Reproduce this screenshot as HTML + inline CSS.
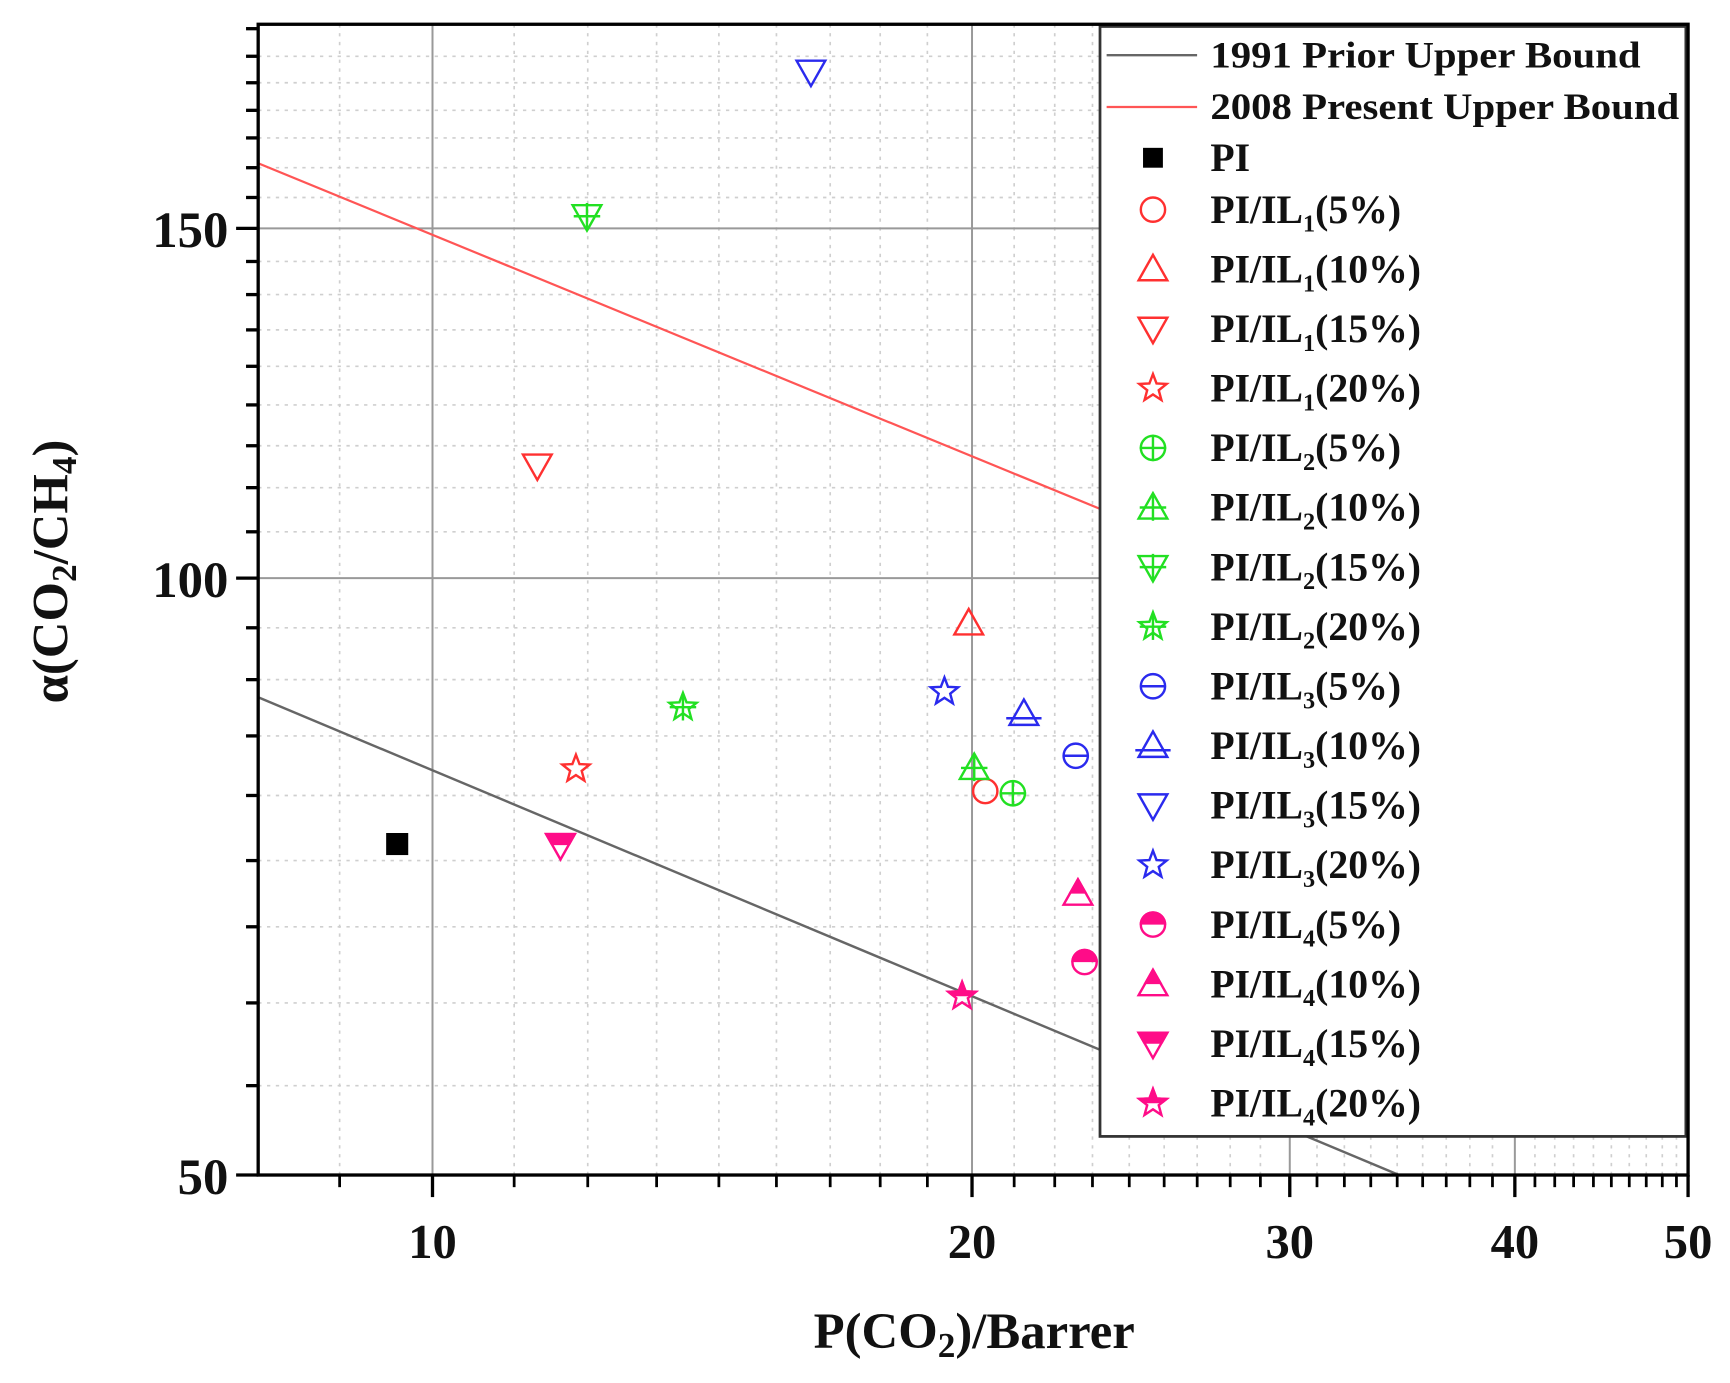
<!DOCTYPE html>
<html><head><meta charset="utf-8"><style>
html,body{margin:0;padding:0;background:#fff;}
svg{display:block;}
text{font-family:"Liberation Serif",serif;font-weight:bold;fill:#111;}
</style></head><body>
<svg id="s" width="1730" height="1383" viewBox="0 0 1568 1253.5" preserveAspectRatio="none" xmlns="http://www.w3.org/2000/svg">
<defs>
<clipPath id="top"><rect x="-20" y="-20" width="40" height="20"/></clipPath>
<clipPath id="plot"><rect x="234" y="22" width="1296" height="1043"/></clipPath>
</defs>
<g id="grid"></g>
<g clip-path="url(#plot)">
<line x1="234" y1="632" x2="1268" y2="1065" stroke="#666" stroke-width="2.2"/>
<line x1="234" y1="148" x2="1530" y2="680" stroke="#ff5555" stroke-width="2"/>
</g>
<g id="marks"></g>
<!-- legend -->
<rect x="997" y="24" width="531" height="1006" fill="#fff" stroke="#333" stroke-width="2.5"/>
<line x1="1003" y1="50" x2="1085" y2="50" stroke="#666" stroke-width="2.2"/>
<line x1="1003" y1="97" x2="1085" y2="97" stroke="#ff5555" stroke-width="2"/>
<text x="1097" y="61" font-size="34" textLength="390" lengthAdjust="spacingAndGlyphs">1991 Prior Upper Bound</text>
<text x="1097" y="108" font-size="34" textLength="425" lengthAdjust="spacingAndGlyphs">2008 Present Upper Bound</text>
<g id="legtext"></g>
<!-- axes -->
<g id="axes" stroke="#000"></g>
<text x="207" y="224" font-size="46" text-anchor="end">150</text>
<text x="207" y="541" font-size="46" text-anchor="end">100</text>
<text x="207" y="1082" font-size="46" text-anchor="end">50</text>
<text x="392" y="1140" font-size="44" text-anchor="middle">10</text>
<text x="881" y="1140" font-size="44" text-anchor="middle">20</text>
<text x="1169" y="1140" font-size="44" text-anchor="middle">30</text>
<text x="1373" y="1140" font-size="44" text-anchor="middle">40</text>
<text x="1530" y="1140" font-size="44" text-anchor="middle">50</text>
<text x="883" y="1222" font-size="46" text-anchor="middle">P(CO<tspan font-size="32" dy="8">2</tspan><tspan dy="-8">)/Barrer</tspan></text>
<text transform="translate(61,518) rotate(-90)" font-size="46" text-anchor="middle">α(CO<tspan font-size="32" dy="8">2</tspan><tspan dy="-8">/CH</tspan><tspan font-size="32" dy="8">4</tspan><tspan dy="-8">)</tspan></text>
</svg>
<script>
const NS="http://www.w3.org/2000/svg";
function el(p,t,a){const e=document.createElementNS(NS,t);for(const k in a)e.setAttribute(k,a[k]);p.appendChild(e);return e;}
const grid=document.getElementById('grid'),axes=document.getElementById('axes'),marks=document.getElementById('marks'),lt=document.getElementById('legtext');
const L=234,R=1530,T=22,B=1065;
// x ticks
const zs=[95,193,280,358,431,497,558,615,668,718,766,810,853,893,932,969,1004,1039,1071,1102,1131,1160,1188,1216,1243,1268,1293,1317,1340,1362,1383,1403,1424,1443,1462,1480,1497,1512,1525];
const majz=[193,766,1102,1340,1525];
const xs=zs.map(z=>(250+z/1.06)/1.1033);
const majX=[392,881,1169,1373,1530];
xs.forEach((x,i)=>{const maj=majz.includes(zs[i]);
 if(maj){x=majX[majz.indexOf(zs[i])];}
 if(!maj) el(grid,'line',{x1:x,y1:T,x2:x,y2:B,stroke:'#cfcfcf','stroke-width':1.5,'stroke-dasharray':'3 5'});
 else if(x<R-2) el(grid,'line',{x1:x,y1:T,x2:x,y2:B,stroke:'#999','stroke-width':1.8});
 el(axes,'line',{x1:x,y1:B,x2:x,y2:B+(maj?20:11),'stroke-width':maj?3:2.5});
});
// y ticks
const ysMin=[51,75,100,125,152,179,237,267,299,332,367,404,442,482,569,616,667,721,780,840,909,984];
const ysMaj=[207,524];
ysMin.forEach(y=>{el(grid,'line',{x1:L,y1:y,x2:R,y2:y,stroke:'#cfcfcf','stroke-width':1.5,'stroke-dasharray':'3 5'});
 el(axes,'line',{x1:L-11,y1:y,x2:L,y2:y,'stroke-width':3});});
ysMaj.forEach(y=>{el(grid,'line',{x1:L,y1:y,x2:R,y2:y,stroke:'#999','stroke-width':1.8});
 el(axes,'line',{x1:L-20,y1:y,x2:L,y2:y,'stroke-width':3});});
el(axes,'line',{x1:L-11,y1:26,x2:L,y2:26,'stroke-width':3});
el(axes,'line',{x1:L-20,y1:B,x2:L,y2:B,'stroke-width':3});
el(axes,'rect',{x:L,y:T,width:R-L,height:B-T,fill:'none','stroke-width':3});
// markers
function star(o,i){let p=[];for(let k=0;k<10;k++){const r=k%2?i:o,a=-Math.PI/2+k*Math.PI/5;p.push((r*Math.cos(a)).toFixed(2)+','+(r*Math.sin(a)).toFixed(2));}return p.join(' ');}
const shapes={
 circ:'<circle r="11"/>',
 up:'<polygon points="0,-13 13,10 -13,10"/>',
 dn:'<polygon points="0,13 13,-10 -13,-10"/>',
 star:'<polygon points="'+star(13,5.5)+'"/>'
};
function marker(p,x,y,shape,col,mod){
 const g=el(p,'g',{transform:`translate(${x},${y})`,fill:'none',stroke:col,'stroke-width':2.2});
 let h=shapes[shape];
 if(mod==='fill'){g.setAttribute('fill',col);}
 if(mod==='half'){h+= '<g clip-path="url(#top)" fill="'+col+'">'+shapes[shape]+'</g>';}
 if(mod==='plus'){h+='<line x1="-12" y1="0" x2="12" y2="0"/><line x1="0" y1="-12" x2="0" y2="12"/>';}
 if(mod==='hl'){
  if(shape==='up') h+='<line x1="-16" y1="4" x2="16" y2="4"/>';
  else if(shape==='circ') h+='<line x1="-11" y1="0" x2="11" y2="0"/>';
 }
 g.innerHTML=h;
}
const R_='#ff3030',G_='#22e022',B_='#2a2aee',M_='#ff0c88';
const series=[
 ['PI',360,765,'sq','#000',''],
 ['PI/IL|1|(5%)',893,717,'circ',R_,''],
 ['PI/IL|1|(10%)',878,565,'up',R_,''],
 ['PI/IL|1|(15%)',487,422,'dn',R_,''],
 ['PI/IL|1|(20%)',522,697,'star',R_,''],
 ['PI/IL|2|(5%)',918,719,'circ',G_,'plus'],
 ['PI/IL|2|(10%)',883,696,'up',G_,'plus'],
 ['PI/IL|2|(15%)',532,196,'dn',G_,'plus'],
 ['PI/IL|2|(20%)',619,641,'star',G_,'plus'],
 ['PI/IL|3|(5%)',975,685,'circ',B_,'hl'],
 ['PI/IL|3|(10%)',928,647,'up',B_,'hl'],
 ['PI/IL|3|(15%)',735,65,'dn',B_,''],
 ['PI/IL|3|(20%)',856,627,'star',B_,''],
 ['PI/IL|4|(5%)',983,872,'circ',M_,'half'],
 ['PI/IL|4|(10%)',977,810,'up',M_,'half'],
 ['PI/IL|4|(15%)',508,766,'dn',M_,'half'],
 ['PI/IL|4|(20%)',872,903,'star',M_,'half']
];
series.forEach((s,i)=>{
 const ly=143+i*54 - (i===0?0:(i>=1? -0:0));
 const rowY= i===0?143:190+(i-1)*54;
 if(s[3]==='sq'){el(marks,'rect',{x:s[1]-10,y:s[2]-10,width:20,height:20,fill:'#000'});}
 else marker(marks,s[1],s[2],s[3],s[4],s[5]);
 // legend
 if(s[3]==='sq'){el(lt,'rect',{x:1036,y:rowY-9,width:18,height:18,fill:'#000'});}
 else marker(lt,1045,rowY,s[3],s[4],s[5]);
 const parts=s[0].split('|');
 const t=el(lt,'text',{x:1097,y:rowY+12,'font-size':36});
 if(parts.length===1){t.textContent=parts[0];}
 else{
  const a=el(t,'tspan',{});a.textContent=parts[0];
  const b=el(t,'tspan',{'font-size':22,dy:8});b.textContent=parts[1];
  const c=el(t,'tspan',{dy:-8});c.textContent=parts[2];
 }
});
</script>
</body></html>
